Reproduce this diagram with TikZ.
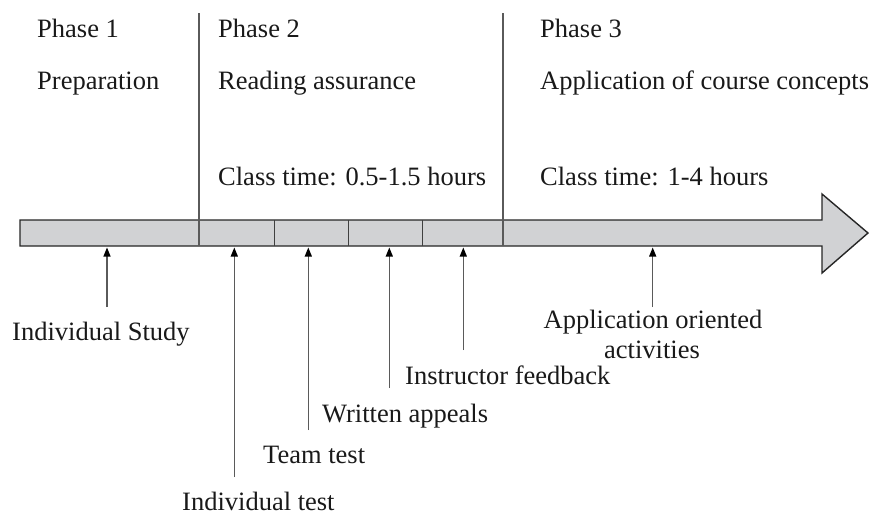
\documentclass[tikz,border=0pt]{standalone}
\usepackage{fontspec}
\setmainfont{Liberation Serif}
\usetikzlibrary{arrows.meta}
\definecolor{barfill}{RGB}{209,210,212}
\definecolor{linegray}{RGB}{90,90,90}
\tikzset{
  lbl/.style={anchor=base west, inner sep=0pt, font=\fontsize{26.5}{31}\selectfont, text=black!90},
  clbl/.style={anchor=base, inner sep=0pt, font=\fontsize{26.5}{31}\selectfont, text=black!90},
  phaseline/.style={draw=linegray, line width=1.3pt},
  divider/.style={draw=black!75, line width=1.2pt},
  pointer/.style={draw=linegray, line width=1.2pt, -{Triangle[length=9pt,width=7pt,fill=black,color=black]}},
}
\begin{document}
\begin{tikzpicture}[x=1pt,y=-1pt]
\useasboundingbox (0,0) rectangle (871,515);
% timeline arrow
\draw[fill=barfill, draw=black!85, line width=1.4pt, line join=miter]
  (20,220) -- (822,220) -- (822,194) -- (868,233) -- (822,273) -- (822,246) -- (20,246) -- cycle;
% dividers in bar
\foreach \x/\n in {274.3/d1, 348.3/d2, 422.7/d3} {
  \coordinate (\n t) at (\x,220);
  \coordinate (\n b) at (\x,246);
  \draw[divider] (\n t) -- (\n b);
}
% phase lines
\coordinate (p2top) at (199,13);
\coordinate (p2bot) at (199,246);
\coordinate (p3top) at (503,13);
\coordinate (p3bot) at (503,246);
\draw[phaseline] (p2top) -- (p2bot);
\draw[phaseline] (p3top) -- (p3bot);
% header texts
\node[lbl] (ph1) at (37,37) {Phase 1};
\node[lbl] (prep) at (37,89) {Preparation};
\node[lbl] (ph2) at (218,37) {Phase 2};
\node[lbl] (read) at (218,89) {Reading assurance};
\node[lbl] (ct2) at (218,185) {Class time: 0.5-1.5 hours};
\node[lbl] (ph3) at (540,37) {Phase 3};
\node[lbl] (appc) at (540,89) {Application of course concepts};
\node[lbl] (ct3) at (540,185) {Class time: 1-4 hours};
% lower labels
\node[lbl] (istudy) at (12,340) {Individual Study};
\node[lbl] (itest) at (182,510) {Individual test};
\node[lbl] (ttest) at (263,463) {Team test};
\node[lbl] (wapp) at (322,422) {Written appeals};
\node[lbl] (ifeed) at (405,384) {Instructor feedback};
\node[clbl] (appo) at (653,328) {Application oriented};
\node[clbl] (appo2) at (652,358) {activities};
% pointer coordinates
\foreach \x/\yb/\n in {107/307/a, 234.3/477/b, 308.3/430/c, 389.3/388/d, 463.3/350/e, 652.7/307/f} {
  \coordinate (\n s) at (\x,\yb);
  \coordinate (\n e) at (\x,247.5);
  \draw[pointer] (\n s) -- (\n e);
}
\end{tikzpicture}
\end{document}
